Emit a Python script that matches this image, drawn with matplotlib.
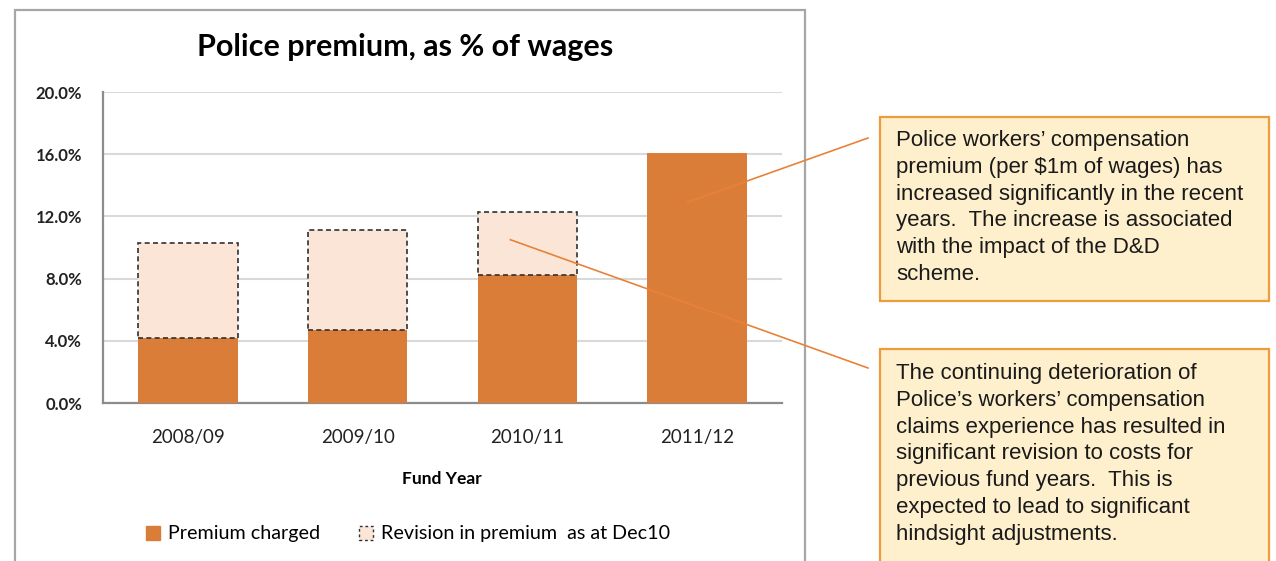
"""
Police premium as % of wages, with revision as at Dec10 and commentary boxes.
"""

import matplotlib
matplotlib.use("Agg")
import matplotlib.pyplot as plt
from matplotlib.patches import Patch, Rectangle
from matplotlib.lines import Line2D
from matplotlib.ticker import FuncFormatter

# Data
YEARS = ["2008/09", "2009/10", "2010/11", "2011/12"]
PREMIUM_CHARGED = [4.2, 4.7, 8.2, 16.1]
REVISION = [6.1, 6.4, 4.1, 0.0]
Y_TICKS = [0, 4, 8, 12, 16, 20]

NOTE_TOP = ("Police workers\u2019 compensation\n"
            "premium (per $1m of wages) has\n"
            "increased significantly in the recent\n"
            "years.  The increase is associated\n"
            "with the impact of the D&D\n"
            "scheme.")
NOTE_BOTTOM = ("The continuing deterioration of\n"
               "Police\u2019s workers\u2019 compensation\n"
               "claims experience has resulted in\n"
               "significant revision to costs for\n"
               "previous fund years.  This is\n"
               "expected to lead to significant\n"
               "hindsight adjustments.")

ORANGE = "#D97D38"
LIGHT = "#FBE5D6"
BOX_FILL = "#FEEFCD"
BOX_EDGE = "#EE9B3C"
LINE_COL = "#E8823A"
CHART_FONT = "Lato"
NOTE_FONT = "Liberation Sans"

W, H = 1276, 561
fig = plt.figure(figsize=(W / 100, H / 100), dpi=100)


def fx(px):
    return px / W


def fy(py):
    return 1 - py / H


# chart outer frame
fig.patches.append(Rectangle((fx(15), fy(575)), fx(805) - fx(15), fy(10) - fy(575),
                             transform=fig.transFigure, fill=False,
                             edgecolor="#A6A6A6", lw=1.6, zorder=0))

ax = fig.add_axes([fx(103), fy(403), fx(782) - fx(103), fy(92) - fy(403)])
x = list(range(len(YEARS)))
ax.bar(x, PREMIUM_CHARGED, width=0.585, color=ORANGE, zorder=3)
for xi, base, rev in zip(x, PREMIUM_CHARGED, REVISION):
    if rev > 0:
        ax.bar(xi, rev, bottom=base, width=0.585, color=LIGHT,
               edgecolor="#303030", linestyle=(0, (3, 2)), linewidth=1.2, zorder=3)

ax.set_xlim(-0.5, 3.5)
ax.set_ylim(0, 20)
ax.set_yticks(Y_TICKS)
ax.yaxis.set_major_formatter(FuncFormatter(lambda v, _: f"{v:.1f}%"))
ax.set_xticks(x)
ax.set_xticklabels(YEARS)
ax.grid(axis="y", color="#D9D9D9", lw=1.5, zorder=0)
ax.set_axisbelow(True)
for s in ["top", "right"]:
    ax.spines[s].set_visible(False)
for s in ["left", "bottom"]:
    ax.spines[s].set_color("#8C8C8C")
    ax.spines[s].set_linewidth(1.6)
ax.tick_params(length=0)
ax.tick_params(axis="y", labelsize=12, pad=15)
ax.tick_params(axis="x", labelsize=13.5, pad=19)
for lab in ax.get_yticklabels():
    lab.set_fontfamily(CHART_FONT)
    lab.set_fontweight("bold")
    lab.set_color("#222222")
for lab in ax.get_xticklabels():
    lab.set_fontfamily(CHART_FONT)
    lab.set_color("#222222")

fig.text(fx(405), fy(47), "Police premium, as % of wages", ha="center", va="center",
         fontsize=22, fontweight="bold", family=CHART_FONT)
fig.text(fx(442), fy(479), "Fund Year", ha="center", va="center",
         fontsize=12.5, fontweight="bold", family=CHART_FONT)

handles = [Patch(facecolor=ORANGE, edgecolor=ORANGE),
           Patch(facecolor=LIGHT, edgecolor="#303030", linestyle=(0, (2, 2)), linewidth=1.0)]
fig.legend(handles, ["Premium charged", "Revision in premium  as at Dec10"],
           loc="center", bbox_to_anchor=(fx(408), fy(534)), ncol=2, frameon=False,
           prop={"family": CHART_FONT, "size": 14.2}, handlelength=0.7, handleheight=0.7,
           handletextpad=0.4, columnspacing=2.0)

# commentary boxes
fig.patches.append(Rectangle((fx(880), fy(301)), fx(1269) - fx(880), fy(117) - fy(301),
                             transform=fig.transFigure, facecolor=BOX_FILL,
                             edgecolor=BOX_EDGE, lw=1.6, zorder=1))
fig.patches.append(Rectangle((fx(880), fy(575)), fx(1269) - fx(880), fy(349) - fy(575),
                             transform=fig.transFigure, facecolor=BOX_FILL,
                             edgecolor=BOX_EDGE, lw=1.6, zorder=1))
fig.text(fx(896), fy(130), NOTE_TOP, ha="left", va="top", fontsize=16,
         family=NOTE_FONT, color="#1a1a1a", linespacing=1.36, zorder=2)
fig.text(fx(896), fy(363), NOTE_BOTTOM, ha="left", va="top", fontsize=16,
         family=NOTE_FONT, color="#1a1a1a", linespacing=1.36, zorder=2)

# connector lines from boxes into the bars
for (dx, dy), (px, py) in [((2.94, 12.9), (868, 138)), ((1.90, 10.5), (868, 368))]:
    xd, yd = fig.transFigure.inverted().transform(ax.transData.transform((dx, dy)))
    fig.add_artist(Line2D([fx(px), xd], [fy(py), yd], transform=fig.transFigure,
                          color=LINE_COL, lw=1.2, zorder=5))

fig.savefig("out.png", dpi=100)
